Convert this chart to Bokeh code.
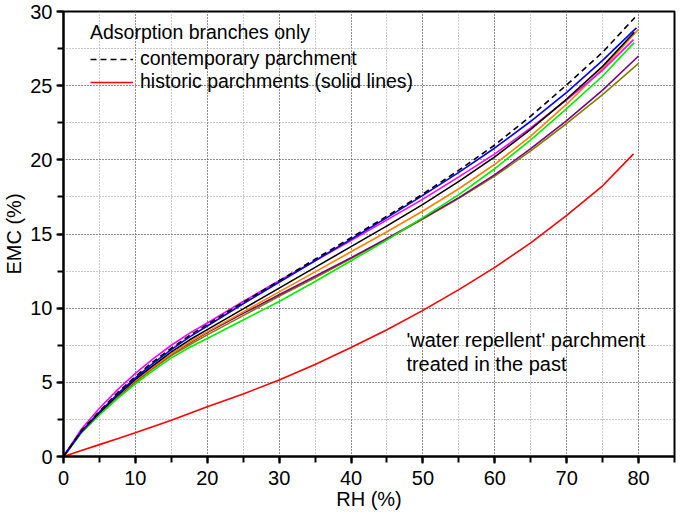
from bokeh.plotting import figure
from bokeh.models import Range1d, SingleIntervalTicker, Legend, LegendItem, Label
from bokeh.embed import file_html
from bokeh.resources import INLINE

# ---- data ----
rh = [0, 2.5, 5, 7.5, 10, 12.5, 15, 17.5, 20, 25, 30, 35, 40, 45, 50, 55, 60, 65, 70, 75]

contemporary_rh = rh + [79.5]
contemporary_emc = [0, 1.75, 3.05, 4.3, 5.4, 6.4, 7.3, 8.15, 8.9, 10.4, 11.85, 13.3, 14.75, 16.2, 17.7, 19.3, 21.0, 22.95, 25.05, 27.25, 29.6]

blue_rh = rh + [79.7]
blue_emc = [0, 1.7, 3.0, 4.2, 5.3, 6.3, 7.2, 8.05, 8.8, 10.3, 11.75, 13.2, 14.65, 16.1, 17.6, 19.15, 20.8, 22.6, 24.55, 26.7, 28.9]

magenta_rh = rh + [79.3]
magenta_emc = [0, 1.85, 3.25, 4.5, 5.6, 6.6, 7.5, 8.3, 9.0, 10.45, 11.85, 13.2, 14.55, 15.95, 17.35, 18.85, 20.4, 22.15, 24.05, 26.05, 28.1]

black_rh = rh + [79.4]
black_emc = [0, 1.68, 2.95, 4.12, 5.2, 6.15, 7.05, 7.85, 8.55, 9.95, 11.35, 12.75, 14.15, 15.55, 17.0, 18.55, 20.2, 22.05, 24.1, 26.3, 28.6]

orange_rh = rh + [80]
orange_emc = [0, 1.66, 2.93, 4.08, 5.12, 6.05, 6.92, 7.7, 8.4, 9.75, 11.1, 12.45, 13.8, 15.15, 16.55, 18.05, 19.7, 21.6, 23.75, 26.15, 28.8]

green_rh = rh + [79.4]
green_emc = [0, 1.6, 2.8, 3.9, 4.9, 5.8, 6.65, 7.35, 7.95, 9.2, 10.45, 11.8, 13.2, 14.6, 16.1, 17.65, 19.4, 21.35, 23.45, 25.65, 27.9]

purple_rh = rh + [80]
purple_emc = [0, 1.65, 2.9, 4.05, 5.1, 6.05, 6.9, 7.65, 8.35, 9.65, 10.9, 12.15, 13.4, 14.7, 16.05, 17.45, 19.0, 20.75, 22.65, 24.7, 27.0]

olive_rh = rh + [80]
olive_emc = [0, 1.63, 2.85, 3.98, 5.0, 5.95, 6.8, 7.52, 8.2, 9.5, 10.8, 12.05, 13.35, 14.65, 16.0, 17.4, 18.9, 20.6, 22.45, 24.4, 26.5]

red_rh = rh + [79.3]
red_emc = [0, 0.4, 0.8, 1.2, 1.6, 2.02, 2.45, 2.9, 3.35, 4.22, 5.15, 6.2, 7.35, 8.55, 9.85, 11.25, 12.75, 14.4, 16.25, 18.25, 20.4]

FONT = "Liberation Sans"

p = figure(width=676, height=512, output_backend="svg", toolbar_location=None,
           x_range=Range1d(0, 85), y_range=Range1d(0, 30),
           min_border_left=52, min_border_right=2, min_border_top=11, min_border_bottom=55)
p.background_fill_color = "white"
p.border_fill_color = "white"
p.outline_line_color = "black"
p.outline_line_width = 2

p.xaxis.ticker = SingleIntervalTicker(interval=10, num_minor_ticks=2)
p.yaxis.ticker = SingleIntervalTicker(interval=5, num_minor_ticks=2)

for ax in (p.xaxis[0], p.yaxis[0]):
    ax.axis_line_width = 2
    ax.axis_line_color = "black"
    ax.major_tick_line_width = 2
    ax.minor_tick_line_width = 2
    ax.major_tick_line_color = "black"
    ax.minor_tick_line_color = "black"
    ax.major_tick_in = 0
    ax.major_tick_out = 7
    ax.minor_tick_in = 0
    ax.minor_tick_out = 6
    ax.major_label_text_font = FONT
    ax.major_label_text_font_size = "20px"
    ax.major_label_text_color = "black"
    ax.axis_label_text_font = FONT
    ax.axis_label_text_font_size = "20px"
    ax.axis_label_text_font_style = "normal"
    ax.axis_label_text_color = "black"
    ax.major_label_standoff = 4
    ax.axis_label_standoff = 2

p.xaxis.major_label_standoff = 7
p.xaxis.axis_label_standoff = 0

p.xaxis.axis_label = "RH (%)"
p.yaxis.axis_label = "EMC (%)"

for g in (p.xgrid[0], p.ygrid[0]):
    g.grid_line_color = "#555555"
    g.grid_line_dash = "1 2"
    g.grid_line_width = 1
    g.minor_grid_line_color = "#999999"
    g.minor_grid_line_dash = "1 2"
    g.minor_grid_line_width = 1

lw = 1.6
r_red = p.line(red_rh, red_emc, line_color="#ff0000", line_width=lw)
p.line(olive_rh, olive_emc, line_color="#808000", line_width=lw)
p.line(purple_rh, purple_emc, line_color="#800080", line_width=lw)
p.line(green_rh, green_emc, line_color="#00ee00", line_width=lw)
p.line(orange_rh, orange_emc, line_color="#ff8000", line_width=lw)
p.line(magenta_rh, magenta_emc, line_color="#ff00ff", line_width=lw)
p.line(black_rh, black_emc, line_color="black", line_width=lw)
p.line(blue_rh, blue_emc, line_color="#0000ff", line_width=lw)
r_dash = p.line(contemporary_rh, contemporary_emc, line_color="black", line_width=lw, line_dash="6 4")

legend = Legend(items=[LegendItem(label="contemporary parchment", renderers=[r_dash]),
                       LegendItem(label="historic parchments (solid lines)", renderers=[r_red])],
                title="Adsorption branches only", location=(27, 363))
legend.title_text_font = FONT
legend.title_text_font_size = "19.5px"
legend.title_text_font_style = "normal"
legend.title_text_color = "black"
legend.title_standoff = 3
legend.label_text_font = FONT
legend.label_text_font_size = "19.5px"
legend.label_text_color = "black"
legend.glyph_width = 43
legend.glyph_height = 18
legend.label_height = 18
legend.label_standoff = 7
legend.spacing = 0
legend.padding = 0
legend.margin = 0
legend.background_fill_alpha = 0
legend.border_line_alpha = 0
p.add_layout(legend)

for txt, yv in (("'water repellent' parchment", 7.88), ("treated in the past", 6.23)):
    p.add_layout(Label(x=47.7, y=yv, text=txt, text_font=FONT, text_font_size="20px",
                       text_baseline="middle", text_align="left", text_color="black"))

open("out.html", "w").write(file_html(p, INLINE))
